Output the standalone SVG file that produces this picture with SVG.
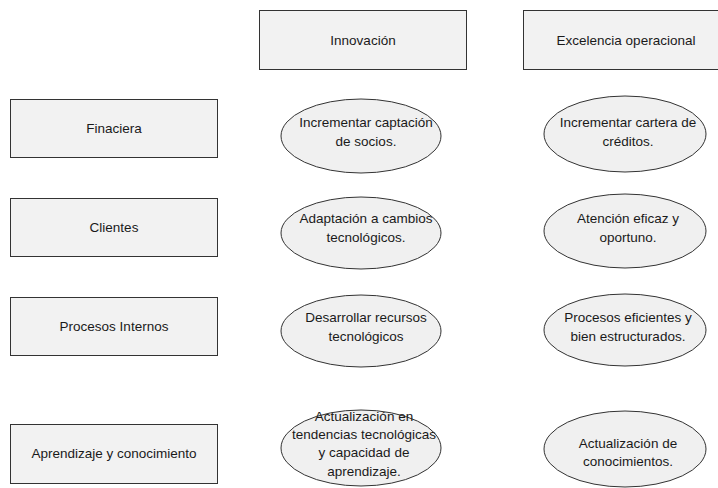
<svg xmlns="http://www.w3.org/2000/svg" width="718" height="488" viewBox="0 0 718 488">
<style>
.box{fill:#f2f2f2;stroke:#333333;stroke-width:1}
.ell{fill:#f0f0f0;stroke:#333333;stroke-width:1}
text{font-family:"Liberation Sans",Arial,sans-serif;font-size:13.5px;fill:#1a1a1a;text-anchor:middle;dominant-baseline:central}
</style>
<rect width="718" height="488" fill="#ffffff"/>
<g id="connectors"></g>
<g id="innovacion"><rect class="box" x="259.5" y="10.5" width="207" height="59"/><text x="363" y="40">Innovación</text></g>
<g id="excelencia"><rect class="box" x="523.5" y="10.5" width="207" height="59"/><text x="626" y="40">Excelencia operacional</text></g>
<g id="finaciera"><rect class="box" x="10.5" y="99.5" width="207" height="58"/><text x="114" y="128">Finaciera</text></g>
<g id="clientes"><rect class="box" x="10.5" y="198.5" width="207" height="58"/><text x="114" y="227">Clientes</text></g>
<g id="procesos"><rect class="box" x="10.5" y="297.5" width="207" height="58"/><text x="114" y="326">Procesos Internos</text></g>
<g id="aprendizaje"><rect class="box" x="10.5" y="424.5" width="207" height="59"/><text x="114" y="453">Aprendizaje y conocimiento</text></g>
<g id="e11"><ellipse class="ell" cx="361" cy="136" rx="80" ry="37"/><text x="366" y="122">Incrementar captación</text><text x="366" y="141">de socios.</text></g>
<g id="e21"><ellipse class="ell" cx="361" cy="233" rx="80" ry="36"/><text x="366" y="218">Adaptación a cambios</text><text x="366" y="237">tecnológicos.</text></g>
<g id="e31"><ellipse class="ell" cx="361" cy="331" rx="80" ry="36"/><text x="366" y="317">Desarrollar recursos</text><text x="366" y="336">tecnológicos</text></g>
<g id="e41"><ellipse class="ell" cx="361" cy="448" rx="80" ry="38"/><text x="364" y="416">Actualización en</text><text x="364" y="434">tendencias tecnológicas</text><text x="364" y="452">y capacidad de</text><text x="364" y="471">aprendizaje.</text></g>
<g id="e12"><ellipse class="ell" cx="625" cy="134" rx="81" ry="38"/><text x="628" y="122">Incrementar cartera de</text><text x="628" y="141">créditos.</text></g>
<g id="e22"><ellipse class="ell" cx="625" cy="231" rx="81" ry="37"/><text x="628" y="218">Atención eficaz y</text><text x="628" y="237">oportuno.</text></g>
<g id="e32"><ellipse class="ell" cx="625" cy="330" rx="81" ry="36"/><text x="628" y="317">Procesos eficientes y</text><text x="628" y="336">bien estructurados.</text></g>
<g id="e42"><ellipse class="ell" cx="625" cy="449" rx="81" ry="38"/><text x="628" y="443">Actualización de</text><text x="628" y="461">conocimientos.</text></g>
</svg>
